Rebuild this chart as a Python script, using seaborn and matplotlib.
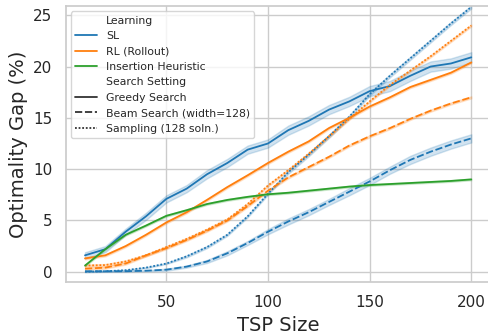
import numpy as np
import pandas as pd
import matplotlib
matplotlib.use("Agg")
import matplotlib.pyplot as plt
import seaborn as sns

tsp_sizes = [10, 20, 30, 40, 50, 60, 70, 80, 90, 100,
             110, 120, 130, 140, 150, 160, 170, 180, 190, 200]

sl_greedy = [1.6, 2.2, 3.9, 5.4, 7.1, 8.1, 9.5, 10.6, 11.9, 12.5,
             13.8, 14.7, 15.8, 16.6, 17.6, 18.1, 19.1, 20.0, 20.3, 20.9]
sl_beam = [0.05, 0.05, 0.05, 0.1, 0.2, 0.5, 1.0, 1.8, 2.8, 3.9,
           4.9, 5.8, 6.8, 7.8, 8.8, 9.9, 10.9, 11.7, 12.4, 13.0]
sl_sampling = [0.0, 0.05, 0.15, 0.4, 0.8, 1.5, 2.4, 3.6, 5.4, 7.6,
               9.7, 11.4, 13.2, 15.1, 17.3, 19.1, 20.8, 22.5, 24.2, 25.8]
rl_greedy = [1.3, 1.6, 2.5, 3.6, 4.8, 5.8, 7.0, 8.25, 9.4, 10.6,
             11.7, 12.7, 14.0, 15.0, 16.1, 17.0, 18.0, 18.7, 19.4, 20.4]
rl_beam = [0.3, 0.4, 0.8, 1.6, 2.3, 3.1, 4.0, 5.0, 6.4, 7.9,
           9.2, 10.2, 11.2, 12.3, 13.2, 14.0, 14.9, 15.7, 16.4, 17.0]
rl_sampling = [0.6, 0.65, 1.0, 1.6, 2.4, 3.2, 4.1, 5.1, 6.6, 8.4,
               9.9, 11.5, 13.2, 14.9, 16.6, 18.2, 19.6, 21.0, 22.5, 24.0]
insertion = [0.6, 2.2, 3.6, 4.5, 5.45, 6.0, 6.6, 7.0, 7.3, 7.55,
             7.7, 7.9, 8.1, 8.3, 8.45, 8.55, 8.65, 8.75, 8.85, 9.0]

# half-widths of the shaded spread around each curve
sl_greedy_spread = [0.3, 0.3, 0.3, 0.35, 0.35, 0.35, 0.4, 0.4, 0.4, 0.4,
                    0.45, 0.45, 0.45, 0.45, 0.5, 0.5, 0.5, 0.5, 0.5, 0.5]
sl_beam_spread = [0.05, 0.05, 0.05, 0.05, 0.1, 0.1, 0.15, 0.2, 0.2, 0.25,
                  0.3, 0.3, 0.3, 0.35, 0.35, 0.35, 0.4, 0.4, 0.4, 0.4]
sl_sampling_spread = [0.05] * 5 + [0.1] * 5 + [0.15] * 10
rl_spread = [0.1] * 20
ins_spread = [0.08] * 20

learning_order = ["SL", "RL (Rollout)", "Insertion Heuristic"]
setting_order = ["Greedy Search", "Beam Search (width=128)", "Sampling (128 soln.)"]

series = [
    ("SL", "Greedy Search", sl_greedy, sl_greedy_spread),
    ("SL", "Beam Search (width=128)", sl_beam, sl_beam_spread),
    ("SL", "Sampling (128 soln.)", sl_sampling, sl_sampling_spread),
    ("RL (Rollout)", "Greedy Search", rl_greedy, rl_spread),
    ("RL (Rollout)", "Beam Search (width=128)", rl_beam, rl_spread),
    ("RL (Rollout)", "Sampling (128 soln.)", rl_sampling, rl_spread),
    ("Insertion Heuristic", "Greedy Search", insertion, ins_spread),
]

rows = []
for learn, setting, vals, spread in series:
    for x, v, w in zip(tsp_sizes, vals, spread):
        rows.append((x, v - w, learn, setting))
        rows.append((x, v + w, learn, setting))
df = pd.DataFrame(rows, columns=["TSP Size", "Optimality Gap (%)", "Learning", "Search Setting"])

sns.set_theme(style="whitegrid")
plt.rcParams["font.family"] = ["DejaVu Sans"]

fig = plt.figure(figsize=(4.88, 3.36), dpi=100)
ax = fig.add_axes([0.1346, 0.1607, 0.8707, 0.8214])

sns.lineplot(
    data=df, x="TSP Size", y="Optimality Gap (%)",
    hue="Learning", style="Search Setting",
    hue_order=learning_order, style_order=setting_order,
    palette=["#1f77b4", "#ff7f0e", "#2ca02c"],
    estimator="mean", errorbar=lambda v: (v.min(), v.max()),
    linewidth=1.3, ax=ax,
)

ax.set_xlim(0.5, 209.5)
ax.set_ylim(-1.0, 25.9)
ax.set_xticks([50, 100, 150, 200])
ax.set_yticks([0, 5, 10, 15, 20, 25])
ax.tick_params(axis="both", labelsize=11)
ax.set_xlabel("TSP Size", fontsize=14)
ax.set_ylabel("Optimality Gap (%)", fontsize=14)

handles, labels = ax.get_legend_handles_labels()
ax.legend(handles, labels, loc="upper left", fontsize=7.8, frameon=True)

fig.savefig("out.png", dpi=100)
